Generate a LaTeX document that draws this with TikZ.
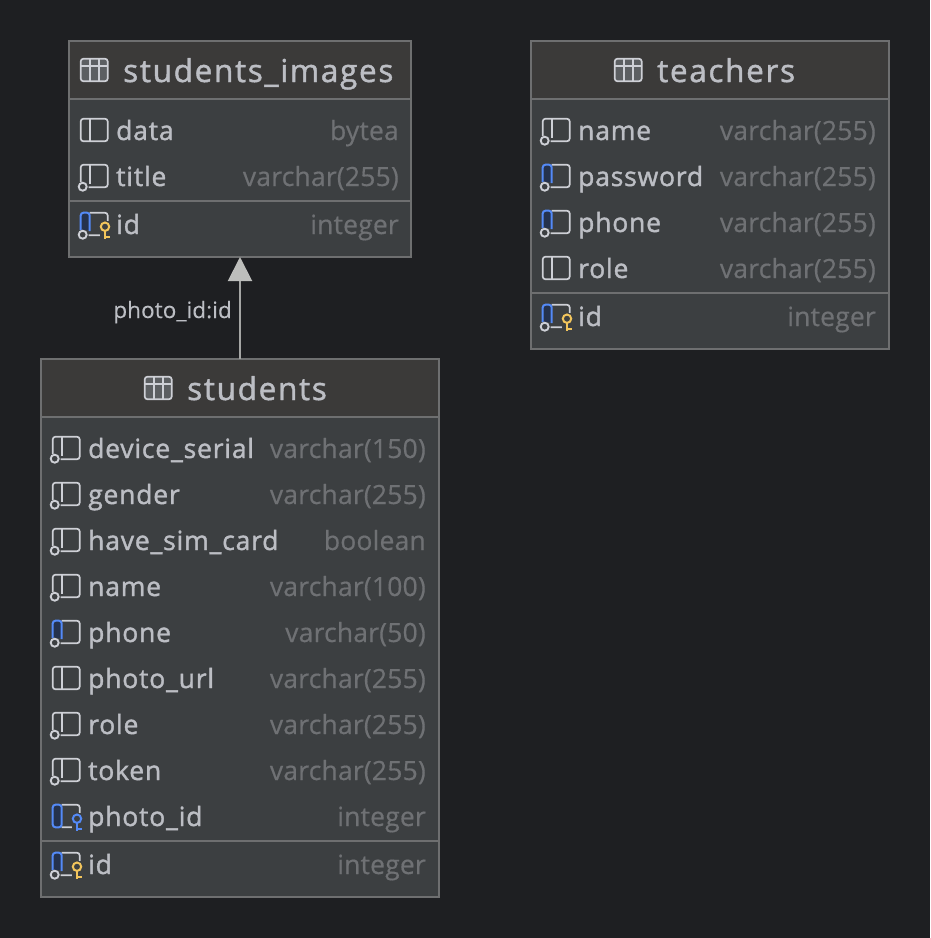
\documentclass[tikz,border=0pt]{standalone}
\usepackage{fontspec}
\setmainfont{Open Sans}[FakeBold=1.4,LetterSpace=3]
\newfontfamily\ttlfont{Open Sans}[FakeBold=1.4,LetterSpace=5.3]
\newfontfamily\typefont{Open Sans}[FakeBold=0.5,LetterSpace=0.7]
\newfontfamily\lblfont{Open Sans}[FakeBold=0.2,LetterSpace=0.3]
\usetikzlibrary{arrows.meta}
\definecolor{bgc}{HTML}{1E1F22}
\definecolor{boxc}{HTML}{3C3F41}
\definecolor{headc}{HTML}{3B3A39}
\definecolor{linec}{HTML}{6E6F70}
\definecolor{txtc}{HTML}{BCBEC4}
\definecolor{typec}{HTML}{6F7174}
\definecolor{iconc}{HTML}{CED0D6}
\definecolor{bluec}{HTML}{548AF7}
\definecolor{darkblue}{HTML}{25324D}
\definecolor{goldc}{HTML}{F2C55C}
\definecolor{arrowc}{HTML}{BDBEBC}
\tikzset{
 tablebox/.style={draw=linec,line width=1.4pt,fill=boxc,rectangle,inner sep=0pt,outer sep=0pt},
 ttl/.style={anchor=base west,inner sep=0pt,text=txtc,font=\ttlfont\fontsize{31.5}{36}\selectfont},
 colname/.style={anchor=base west,inner sep=0pt,text=txtc,font=\fontsize{26.5}{30}\selectfont},
 coltype/.style={anchor=base east,inner sep=0pt,text=typec,font=\typefont\fontsize{26.5}{30}\selectfont},
 ico/.style={draw=iconc,line width=1.7pt,rounded corners=2.8pt},
 edgelabel/.style={anchor=base east,inner sep=0pt,text=txtc,font=\lblfont\fontsize{22.5}{26}\selectfont},
 link/.style={draw=arrowc!70!linec,line width=2pt,-{Triangle[length=24pt,width=24pt,color=arrowc]}}
}
% table grid icon, x = left, y = centre
\newcommand{\tblicon}[2]{%
 \begin{scope}[shift={(#1,#2)}]
  \fill[rounded corners=2.8pt,fill=iconc!22!boxc] (0,-11.3) rectangle (27,11.3);
  \draw[ico] (0,-11.3) rectangle (27,11.3);
  \draw[iconc,line width=1.7pt] (0,-4) -- (27,-4) (9,-11.3) -- (9,11.3) (18,-11.3) -- (18,11.3);
 \end{scope}}
% plain column
\newcommand{\plainicon}[2]{%
 \begin{scope}[shift={(#1,#2)}]
  \draw[ico] (0,-11.3) rectangle (27,11.3);
  \draw[iconc,line width=1.7pt] (9,-11.3) -- (9,11.3);
 \end{scope}}
% nullable column: gap at lower left, circle
\newcommand{\nullicon}[2]{%
 \begin{scope}[shift={(#1,#2)}]
  \draw[ico] (0,6) -- (0,-11.3) -- (27,-11.3) -- (27,11.3) -- (8,11.3);
  \draw[iconc,line width=1.7pt] (9,-11.3) -- (9,8);
  \draw[iconc,line width=1.9pt] (2,10.7) circle (4);
 \end{scope}}
% indexed nullable column: blue left cell, circle
\newcommand{\blueicon}[2]{%
 \begin{scope}[shift={(#1,#2)}]
  \draw[ico] (9,-11.3) -- (27,-11.3) -- (27,11.3) -- (8,11.3);
  \fill[darkblue] (0.5,-10.8) rectangle (9,6);
  \draw[draw=bluec,line width=2pt,rounded corners=2.8pt] (0,6) -- (0,-11.3) -- (9,-11.3) -- (9,7);
  \draw[iconc,line width=1.9pt] (2,10.7) circle (4);
 \end{scope}}
\newcommand{\keyglyph}[3]{% x, y centre of row, colour
 \begin{scope}[shift={(#1,#2)}]
  \fill[boxc] (19,-3) rectangle (30,16);
  \draw[#3,line width=2pt] (24.3,2.7) circle (4.2);
  \draw[#3,line width=2pt] (24.3,6.9) -- (24.3,15.3) (24.3,13.3) -- (29.5,13.3);
 \end{scope}}
\newcommand{\pkicon}[2]{\blueicon{#1}{#2}\keyglyph{#1}{#2}{goldc}}
% foreign key column
\newcommand{\fkicon}[2]{%
 \begin{scope}[shift={(#1,#2)}]
  \draw[ico] (9,-11.3) -- (27,-11.3) -- (27,11.3) -- (9,11.3);
  \fill[darkblue] (0.5,-10.8) rectangle (9,10.8);
  \draw[draw=bluec,line width=2pt,rounded corners=2.8pt] (9,11.3) -- (0,11.3) -- (0,-11.3) -- (9,-11.3) -- cycle;
 \end{scope}\keyglyph{#1}{#2}{bluec}}
% name, name-x, type-right-x, row centre, text, type
\newcommand{\colrow}[6]{%
 \node[colname] (#1n) at (#2,#4+10) {#5};
 \node[coltype] (#1t) at (#3,#4+10) {#6};}
\begin{document}
\begin{tikzpicture}[x=1pt,y=-1pt]
\fill[bgc] (0,0) rectangle (930,938);
\useasboundingbox (0,0) rectangle (930,938);

% students_images
\node[tablebox,minimum width=342pt,minimum height=216pt] (images) at (240,149) {};
\fill[headc] (69.7,41.7) rectangle (410.3,99);
\draw[linec,line width=1.4pt] (69,99) -- (411,99) (69,201) -- (411,201);
\tblicon{80.7}{70}
\node[ttl] (imagest) at (123,82) {students\_images};
\plainicon{80.7}{130}
\colrow{imgdata}{116}{399}{130}{data}{bytea}
\nullicon{80.7}{176}
\colrow{imgtitle}{116}{399}{176}{title}{varchar(255)}
\pkicon{80.7}{224}
\colrow{imgid}{116}{399}{224}{id}{integer}

% teachers
\node[tablebox,minimum width=358pt,minimum height=308pt] (teachers) at (710,195) {};
\fill[headc] (531.7,41.7) rectangle (888.3,99);
\draw[linec,line width=1.4pt] (531,99) -- (889,99) (531,293) -- (889,293);
\tblicon{614.7}{70}
\node[ttl] (teacherst) at (657,82) {teachers};
\nullicon{542.7}{130}
\colrow{tname}{578}{876}{130}{name}{varchar(255)}
\blueicon{542.7}{176}
\colrow{tpass}{578}{876}{176}{password}{varchar(255)}
\blueicon{542.7}{222}
\colrow{tphone}{578}{876}{222}{phone}{varchar(255)}
\plainicon{542.7}{268}
\colrow{trole}{578}{876}{268}{role}{varchar(255)}
\pkicon{542.7}{316}
\colrow{tid}{578}{876}{316}{id}{integer}

% students
\node[tablebox,minimum width=398pt,minimum height=538pt] (students) at (240,628) {};
\fill[headc] (41.7,359.7) rectangle (438.3,417);
\draw[linec,line width=1.4pt] (41,417) -- (439,417) (41,841) -- (439,841);
\tblicon{144.7}{388}
\node[ttl] (studentst) at (187,400) {students};
\nullicon{52.7}{448}
\colrow{sdev}{88}{426}{448}{device\_serial}{varchar(150)}
\nullicon{52.7}{494}
\colrow{sgen}{88}{426}{494}{gender}{varchar(255)}
\nullicon{52.7}{540}
\colrow{ssim}{88}{426}{540}{have\_sim\_card}{boolean}
\nullicon{52.7}{586}
\colrow{sname}{88}{426}{586}{name}{varchar(100)}
\blueicon{52.7}{632}
\colrow{sphone}{88}{426}{632}{phone}{varchar(50)}
\plainicon{52.7}{678}
\colrow{surl}{88}{426}{678}{photo\_url}{varchar(255)}
\nullicon{52.7}{724}
\colrow{srole}{88}{426}{724}{role}{varchar(255)}
\nullicon{52.7}{770}
\colrow{stoken}{88}{426}{770}{token}{varchar(255)}
\fkicon{52.7}{816}
\colrow{sphoto}{88}{426}{816}{photo\_id}{integer}
\pkicon{52.7}{864}
\colrow{sid}{88}{426}{864}{id}{integer}

% relation
\draw[link] (students.north) -- (images.south);
\node[edgelabel] (rel) at (232,318) {photo\_id:id};
\end{tikzpicture}
\end{document}
